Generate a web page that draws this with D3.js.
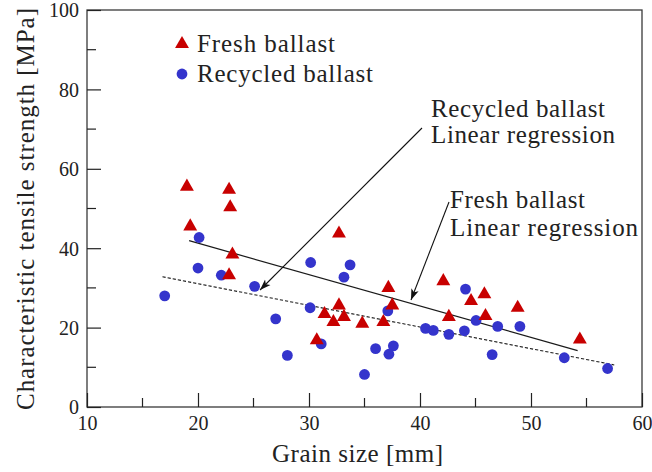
<!DOCTYPE html>
<html>
<head>
<meta charset="utf-8">
<script src="https://cdn.jsdelivr.net/npm/d3@7"></script>
<style>
  html, body { margin: 0; padding: 0; background: #fff; }
  svg text { font-family: "Liberation Serif", "Times New Roman", serif; fill: #222; }
</style>
</head>
<body>
<svg id="chart" width="652" height="472"></svg>
<script>
// Grain size [mm] and characteristic tensile strength [MPa]
const freshX = [19.0, 22.8, 22.9, 19.3, 23.1, 22.8, 32.7, 37.15, 37.5, 32.7, 31.4, 33.15,
                32.2, 34.8, 36.7, 30.7, 42.1, 45.8, 44.6, 48.8, 42.6, 45.9, 54.4];
const freshY = [55.5, 54.7, 50.3, 45.5, 38.4, 33.2, 43.7, 30.0, 25.6, 25.6, 23.4, 22.7,
                21.4, 21.0, 21.4, 16.8, 31.7, 28.4, 26.7, 25.0, 22.7, 22.9, 17.0];

const recycledX = [17.0, 20.0, 20.1, 22.1, 25.1, 30.15, 33.7, 33.15, 37.1, 30.1, 27.0, 31.1,
                   37.6, 36.0, 37.2, 28.05, 35.0, 44.1, 45.05, 47.0, 49.0, 40.5, 41.2, 44.0,
                   42.6, 46.5, 53.0, 56.9];
const recycledY = [28.0, 35.0, 42.7, 33.2, 30.4, 36.4, 35.8, 32.7, 24.2, 25.0, 22.2, 15.9,
                   15.4, 14.7, 13.3, 13.0, 8.2, 29.7, 21.8, 20.3, 20.3, 19.8, 19.3, 19.2,
                   18.3, 13.2, 12.4, 9.7];

// Regression lines: end points [x, y]
const freshFit = [[19.2, 41.9], [54.2, 14.2]];
const recycledFit = [[16.8, 32.8], [57.5, 10.6]];

const xTicks = [10, 20, 30, 40, 50, 60];
const xMinor = [15, 25, 35, 45, 55];
const yTicks = [0, 20, 40, 60, 80, 100];
const yMinor = [10, 30, 50, 70, 90];

const legendLabels = ["Fresh ballast", "Recycled ballast"];
const xTitle = "Grain size [mm]";
const yTitle = "Characteristic tensile strength [MPa]";

const RED = "#c80000", BLUE = "#3434cc";

const svg = d3.select("#chart");
const x = d3.scaleLinear().domain([10, 60]).range([87, 642]);
const y = d3.scaleLinear().domain([0, 100]).range([407, 10]);

// Frame
svg.append("rect")
  .attr("x", x(10)).attr("y", y(100))
  .attr("width", x(60) - x(10)).attr("height", y(0) - y(100))
  .attr("fill", "none").attr("stroke", "#3a3a3a").attr("stroke-width", 1.3);

// Bottom axis: inward ticks
const gx = svg.append("g").attr("transform", `translate(0,${y(0)})`);
gx.call(d3.axisBottom(x).tickValues(xTicks).tickSize(-14).tickPadding(0).tickFormat(d3.format("d")));
gx.select(".domain").remove();
gx.selectAll(".tick line").attr("stroke", "#222").attr("stroke-width", 1.2);
gx.selectAll(".tick text").attr("y", 23).attr("dy", 0)
  .style("font-size", "20px").style("font-family", "Liberation Serif").attr("fill", "#222");
gx.selectAll(".minor").data(xMinor).join("line")
  .attr("x1", d => x(d)).attr("x2", d => x(d)).attr("y1", 0).attr("y2", -9)
  .attr("stroke", "#222").attr("stroke-width", 1.2);

// Left axis: inward ticks
const gy = svg.append("g").attr("transform", `translate(${x(10)},0)`);
gy.call(d3.axisLeft(y).tickValues(yTicks).tickSize(-14).tickPadding(0).tickFormat(d3.format("d")));
gy.select(".domain").remove();
gy.selectAll(".tick line").attr("stroke", "#222").attr("stroke-width", 1.2);
gy.selectAll(".tick text").attr("x", -8).attr("dy", "0.34em")
  .style("font-size", "20px").style("font-family", "Liberation Serif").attr("fill", "#222");
gy.selectAll(".minor").data(yMinor).join("line")
  .attr("y1", d => y(d)).attr("y2", d => y(d)).attr("x1", 0).attr("x2", 9)
  .attr("stroke", "#222").attr("stroke-width", 1.2);

// Axis titles
svg.append("text").text(xTitle)
  .attr("x", 272).attr("y", 462)
  .attr("textLength", 171).attr("lengthAdjust", "spacing")
  .style("font-size", "25px");
svg.append("text").text(yTitle)
  .attr("transform", "translate(33.5,410) rotate(-90)")
  .attr("textLength", 402).attr("lengthAdjust", "spacing")
  .style("font-size", "25px");

// Regression lines
const line = d3.line().x(d => x(d[0])).y(d => y(d[1]));
svg.append("path").datum(freshFit).attr("d", line)
  .attr("fill", "none").attr("stroke", "#1a1a1a").attr("stroke-width", 1.2);
svg.append("path").datum(recycledFit).attr("d", line)
  .attr("fill", "none").attr("stroke", "#1a1a1a").attr("stroke-width", 1.1)
  .attr("stroke-dasharray", "3.2,2");

// Markers
const tri = d3.symbol().type(d3.symbolTriangle).size(84);
const fresh = freshX.map((v, i) => [v, freshY[i]]);
const recycled = recycledX.map((v, i) => [v, recycledY[i]]);

svg.append("g").selectAll("circle").data(recycled).join("circle")
  .attr("cx", d => x(d[0])).attr("cy", d => y(d[1])).attr("r", 5.4)
  .attr("fill", BLUE);
svg.append("g").selectAll("path").data(fresh).join("path")
  .attr("d", tri)
  .attr("transform", d => `translate(${x(d[0])},${y(d[1])})`)
  .attr("fill", RED);

// Annotation arrows
const defs = svg.append("defs");
defs.append("marker").attr("id", "head")
  .attr("viewBox", "0 0 10 10").attr("refX", 10).attr("refY", 5)
  .attr("markerWidth", 11).attr("markerHeight", 11).attr("markerUnits", "userSpaceOnUse")
  .attr("orient", "auto")
  .append("path").attr("d", "M0,1.5 L10,5 L0,8.5 L2.5,5 Z").attr("fill", "#111");

svg.append("line")
  .attr("x1", 422).attr("y1", 128).attr("x2", 260).attr("y2", 290)
  .attr("stroke", "#111").attr("stroke-width", 1.1).attr("marker-end", "url(#head)");
svg.append("line")
  .attr("x1", 449).attr("y1", 202).attr("x2", 411).attr("y2", 300)
  .attr("stroke", "#111").attr("stroke-width", 1.1).attr("marker-end", "url(#head)");

// Annotation text
const notes = [
  { t: "Recycled ballast", x: 431, y: 117, w: 174 },
  { t: "Linear regression", x: 431, y: 143, w: 184 },
  { t: "Fresh ballast", x: 450, y: 208, w: 135 },
  { t: "Linear regression", x: 450, y: 236, w: 188 }
];
svg.append("g").selectAll("text").data(notes).join("text")
  .text(d => d.t).attr("x", d => d.x).attr("y", d => d.y)
  .attr("textLength", d => d.w).attr("lengthAdjust", "spacing")
  .style("font-size", "25px");

// Legend
const lg = svg.append("g");
lg.append("path").attr("d", tri).attr("transform", "translate(182,44)").attr("fill", RED);
lg.append("circle").attr("cx", 182).attr("cy", 74).attr("r", 5.4).attr("fill", BLUE);
lg.selectAll("text").data(legendLabels).join("text")
  .text(d => d).attr("x", 197).attr("y", (d, i) => 52 + i * 30)
  .attr("textLength", (d, i) => i === 0 ? 138 : 176).attr("lengthAdjust", "spacing")
  .style("font-size", "25px");
</script>
</body>
</html>
